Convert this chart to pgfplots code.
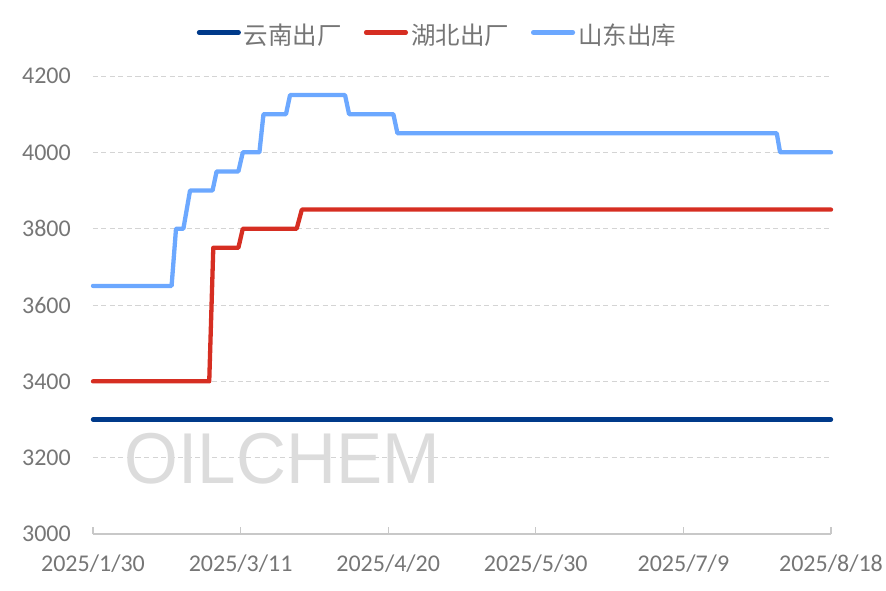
\documentclass[border=0pt]{standalone}
\usepackage{fontspec}
\setmainfont{Carlito}
\newfontfamily\cjk{Noto Sans CJK SC}
\newfontfamily\wm{Liberation Sans}
\usepackage{pgfplots}
\pgfplotsset{compat=1.18}

\definecolor{ynblue}{RGB}{0,58,138}
\definecolor{hbred}{RGB}{214,46,34}
\definecolor{sdblue}{RGB}{108,168,255}
\definecolor{txtgray}{RGB}{118,118,118}
\definecolor{gridgray}{RGB}{212,212,212}
\definecolor{axgray}{RGB}{200,200,200}
\definecolor{wmgray}{RGB}{220,220,220}

\begin{document}
\begin{tikzpicture}
\useasboundingbox (-93pt,-57pt) rectangle (793pt,534pt);
\begin{axis}[
    scale only axis,
    width=738pt, height=458pt,
    xmin=0, xmax=200, ymin=3000, ymax=4200,
    clip=false,
    axis lines*=left,
    x axis line style={draw=axgray, line width=1.3pt},
    y axis line style={draw=none},
    xtick={0,40,80,120,160,200},
    xticklabels={2025/1/30,2025/3/11,2025/4/20,2025/5/30,2025/7/9,2025/8/18},
    ytick={3000,3200,3400,3600,3800,4000,4200},
    ymajorgrids,
    grid style={gridgray, line width=0.9pt, dash pattern=on 5pt off 3.5pt},
    tick align=inside,
    major tick length=7pt,
    xtick style={draw=axgray, line width=1.3pt},
    ytick style={draw=none},
    ticklabel style={font=\fontsize{24}{24}\selectfont, text=txtgray, inner sep=0pt},
    yticklabel style={xshift=-22pt},
    xticklabel style={yshift=-21pt},
    /pgf/number format/1000 sep={},
    /pgf/number format/assume math mode=true,
    legend columns=3,
    legend style={at={(axis description cs:0.4654,1.0895)}, anchor=center,
        draw=none, fill=none, inner sep=0pt, outer sep=0pt,
        font=\cjk\fontsize{24.5}{24.5}\selectfont, text=txtgray,
        nodes={inner sep=0pt},
        /tikz/every odd column/.append style={column sep=3pt},
        /tikz/every even column/.append style={column sep=22pt}},
    legend image code/.code={
        \draw[line width=4.5pt, line cap=round, #1] (2.2pt,2.5pt) -- (41.8pt,2.5pt);
    },
    every axis plot/.append style={line width=4.3pt, line join=round, line cap=round},
]
\node[text=wmgray, inner sep=0pt, xscale=0.96] at (axis cs:51.3,3197)
    {\wm\fontsize{72}{72}\selectfont OILCHEM};

\addplot[ynblue] coordinates {(0,3300) (200,3300)};
\addlegendentry{云南出厂}

\addplot[hbred] coordinates {
    (0,3400) (31.5,3400) (32.6,3750) (39.4,3750) (40.6,3800)
    (55.2,3800) (56.6,3850) (200,3850)
};
\addlegendentry{湖北出厂}

\addplot[sdblue] coordinates {
    (0,3650) (21.3,3650) (22.5,3800) (24.5,3800) (26.3,3900)
    (32.4,3900) (33.5,3950) (39.4,3950) (40.6,4000) (45.1,4000)
    (46.2,4100) (52.3,4100) (53.4,4150) (68.3,4150) (69.4,4100)
    (81.4,4100) (82.5,4050) (185.3,4050) (186.2,4000) (200,4000)
};
\addlegendentry{山东出库}
\end{axis}
\end{tikzpicture}
\end{document}
